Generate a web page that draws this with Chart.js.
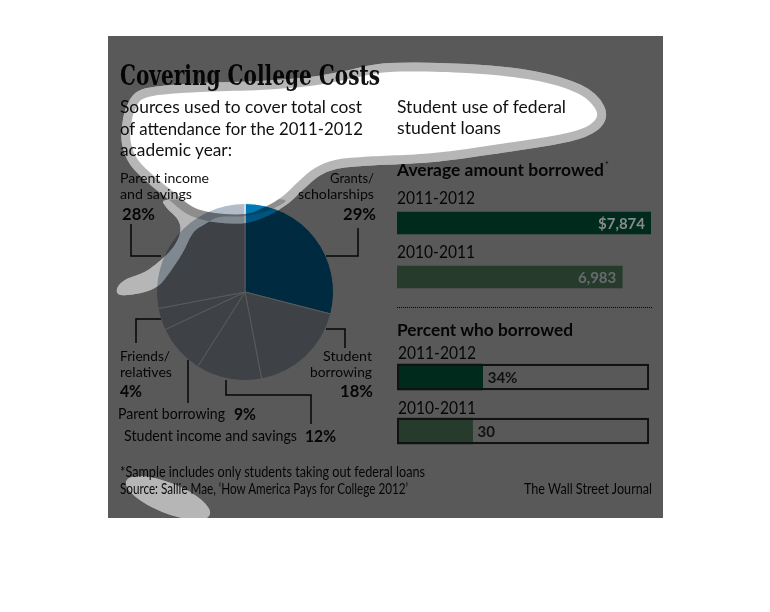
<!DOCTYPE html>
<html><head><meta charset="utf-8">
<script src="https://cdn.jsdelivr.net/npm/chart.js@4"></script>
<style>
body{margin:0;background:#fff;}
#wrap{position:relative;width:770px;height:612px;overflow:hidden;}
.t{position:absolute;white-space:nowrap;color:#111;transform-origin:left center;z-index:2;}
canvas{position:absolute;}
</style></head>
<body><div id="wrap">
<div style="position:absolute;left:108px;top:36px;width:555px;height:482px;background:#fff"></div>
<div style="position:absolute;left:397px;top:307px;width:255px;border-top:1.6px dotted #111;z-index:2"></div>
<canvas id="pie" width="178" height="178" style="left:156px;top:203px;z-index:1"></canvas>
<svg id="lead" width="770" height="612" style="position:absolute;left:0;top:0;z-index:2"></svg>
<svg id="ov" width="770" height="612" style="position:absolute;left:0;top:0;z-index:5"></svg>
<canvas id="avg" width="254" height="108" style="left:397px;top:196px;z-index:10"></canvas>
<canvas id="pct" width="252" height="108" style="left:397px;top:350px;z-index:10"></canvas>
</div>
<script>
// ---------------- data ----------------
const pieLabels = ['Grants/ scholarships','Student borrowing','Student income and savings','Parent borrowing','Friends/ relatives','Parent income and savings'];
const pieValues = [29, 18, 12, 9, 4, 28];
const avgYears = ['2011-2012', '2010-2011'];
const avgValues = [7874, 6983];
const pctYears = ['2011-2012', '2010-2011'];
const pctValues = [34, 30];
const pctScaleMax = 100;

const SANS = 'Lato, "Open Sans", sans-serif';
const wrap = document.getElementById('wrap');
const texts = [];
function T(txt, x, cy, w, size, weight, family, extra){
  const d = document.createElement('div');
  d.className = 't';
  d.textContent = txt;
  d.style.left = x + 'px';
  d.style.top = (cy - 0.53*size) + 'px';
  d.style.fontSize = size + 'px';
  d.style.lineHeight = size + 'px';
  d.style.fontWeight = weight || 400;
  d.style.fontFamily = family || SANS;
  if (extra) Object.assign(d.style, extra);
  wrap.appendChild(d);
  texts.push([d, w]);
  return d;
}
function fit(){
  texts.forEach(([d,w])=>{
    if(!w) return;
    d.style.transform = 'none';
    const r = d.getBoundingClientRect().width;
    if (r>0) d.style.transform = 'scaleX(' + (w/r) + ')';
  });
}
const pct = v => v + '%';

// headings
T('Covering College Costs', 120, 77, 260, 28, 700, '"DejaVu Serif Condensed", "DejaVu Serif", serif');
T('Sources used to cover total cost', 120, 107, 242, 17);
T('of attendance for the 2011-2012', 120, 129, 243, 17);
T('academic year:', 120, 150, 112, 17);
T('Student use of federal', 397, 107, 169, 17);
T('student loans', 397, 128, 104, 17);
T('Average amount borrowed', 397, 170, 207, 17, 700);
T('*', 605, 165, 0, 9, 400);
T(avgYears[0], 397, 198, 78, 17);
T(avgYears[1], 397, 252, 78, 17);
T('Percent who borrowed', 397, 330, 176, 17, 700);
T(pctYears[0], 398, 353, 78, 17);
T(pctYears[1], 398, 408, 78, 17);
// footer
T('*Sample includes only students taking out federal loans', 120, 472, 305, 15);
T('Source: Sallie Mae, \u2018How America Pays for College 2012\u2019', 120, 489, 288, 15);
T('The Wall Street Journal', 524, 489, 128, 15);

// pie labels
T('Parent income', 120, 178, 89, 14);
T('and savings', 120, 194, 72, 14);
T(pct(pieValues[5]), 122, 214, 33, 17, 700);
T('Grants/', 330, 178, 44, 14);
T('scholarships', 298, 194, 76, 14);
T(pct(pieValues[0]), 343, 214, 33, 17, 700);
T('Student', 323, 356, 49, 14);
T('borrowing', 310, 372, 62, 14);
T(pct(pieValues[1]), 340, 391, 33, 17, 700);
T('Friends/', 120, 356, 50, 14);
T('relatives', 120, 372, 52, 14);
T(pct(pieValues[4]), 120, 391, 22, 17, 700);
T('Parent borrowing', 118, 414, 107, 15);
T(pct(pieValues[3]), 234, 414, 22, 17, 700);
T('Student income and savings', 124, 436, 173, 15);
T(pct(pieValues[2]), 305, 436, 31, 17, 700);

fit();
if (document.fonts && document.fonts.ready) document.fonts.ready.then(fit);

// leader lines
const leaders = [
  [[131,224],[131,256],[161,256]],
  [[358,228],[358,256],[326,256]],
  [[326,329],[345,329],[345,348]],
  [[136,343],[136,319],[161,319]],
  [[188,360],[188,403]],
  [[226,380],[226,395],[311,395],[311,424]]
];
document.getElementById('lead').innerHTML = leaders.map(p =>
  `<polyline points="${p.map(q=>q.join(',')).join(' ')}" fill="none" stroke="#111" stroke-width="1.5"/>`).join('');

// highlight overlay
function smooth(pts){
  const n = pts.length; let d = `M${pts[0][0]},${pts[0][1]}`;
  for (let i=0;i<n;i++){
    const p0=pts[(i-1+n)%n], p1=pts[i], p2=pts[(i+1)%n], p3=pts[(i+2)%n];
    const c1=[p1[0]+(p2[0]-p0[0])/6, p1[1]+(p2[1]-p0[1])/6];
    const c2=[p2[0]-(p3[0]-p1[0])/6, p2[1]-(p3[1]-p1[1])/6];
    d += ` C${c1[0].toFixed(1)},${c1[1].toFixed(1)} ${c2[0].toFixed(1)},${c2[1].toFixed(1)} ${p2[0]},${p2[1]}`;
  }
  return d + 'Z';
}
const blob = [[148,97],[200,92],[260,90],[310,86],[350,79],[390,72],[467,73],[533,80],[577,93],[596,110],[592,123],[567,133],[500,144],[433,153],[362,157],[335,160],[315,168],[298,182],[283,196],[265,207],[245,214],[215,213],[193,207],[175,193],[155,177],[138,160],[131,143],[131,127],[135,110]];
const tail = [[166,200],[166,207],[178,220],[180,233],[171,250],[148,270],[125,280],[117,289],[121,295],[141,293],[158,286],[170,272],[183,252],[193,233],[205,224],[220,217],[245,216],[270,210],[285,200],[250,200],[200,200]];
const bd = smooth(blob), td = smooth(tail);
const ell = '<ellipse cx="168" cy="498" rx="45" ry="15" transform="rotate(22 168 498)"/>';
document.getElementById('ov').innerHTML = `
<defs><mask id="m" maskUnits="userSpaceOnUse" x="0" y="0" width="770" height="612">
<rect x="108" y="36" width="555" height="482" fill="#fff"/>
<g fill="#000" stroke="none"><path d="${td}"/>${ell}</g>
<path d="${bd}" fill="#000" stroke="#000" stroke-width="18" stroke-linejoin="round"/>
<g fill="#fff" fill-opacity="0.44"><path d="${td}"/>${ell}</g>
<path d="${bd}" fill="none" stroke="#fff" stroke-opacity="0.44" stroke-width="18" stroke-linejoin="round"/>
<path d="${bd}" fill="#000"/>
</mask></defs>
<rect x="108" y="36" width="555" height="482" fill="#000" fill-opacity="0.652" mask="url(#m)"/>`;

// ---------------- charts ----------------
const base = {responsive:false, animation:false, events:[], layout:{padding:0},
  plugins:{legend:{display:false}, tooltip:{enabled:false}}};

new Chart(document.getElementById('pie'), {
  type:'pie',
  data:{labels:pieLabels, datasets:[{data:pieValues,
    backgroundColor:['#0078b4','#b2bdc9','#b2bdc9','#b2bdc9','#b2bdc9','#b2bdc9'],
    borderColor:'#ffffff', borderWidth:1}]},
  options:Object.assign({}, base)
});

const avgLabelPlugin = {id:'avgLabels', afterDatasetsDraw(chart){
  const ctx = chart.ctx, meta = chart.getDatasetMeta(0);
  ctx.save(); ctx.font = '700 15px ' + SANS; ctx.textAlign='right'; ctx.textBaseline='middle';
  meta.data.forEach((bar,i)=>{
    const v = avgValues[i];
    ctx.fillStyle = i===0 ? '#878b90' : '#676b6e';
    ctx.fillText((i===0?'$':'') + v.toLocaleString('en-US'), bar.x-6, bar.y+1);
  });
  ctx.restore();
}};
new Chart(document.getElementById('avg'), {
  type:'bar',
  data:{labels:avgYears, datasets:[{data:avgValues, backgroundColor:['#002a1c','#273b2d'], barThickness:22, borderWidth:0}]},
  options:Object.assign({}, base, {indexAxis:'y',
    scales:{x:{display:false, min:0, max:Math.max(...avgValues)}, y:{display:false}}}),
  plugins:[avgLabelPlugin]
});

const pctLabelPlugin = {id:'pctLabels', afterDatasetsDraw(chart){
  const ctx = chart.ctx, meta = chart.getDatasetMeta(0);
  ctx.save(); ctx.font = '700 15px ' + SANS; ctx.textAlign='left'; ctx.textBaseline='middle'; ctx.fillStyle='#111';
  meta.data.forEach((bar,i)=>{
    ctx.fillText(pctValues[i] + (i===0?'%':''), bar.x+5, bar.y+1);
  });
  ctx.restore();
}};
new Chart(document.getElementById('pct'), {
  type:'bar',
  data:{labels:pctYears, datasets:[
    {data:pctValues, backgroundColor:['#002a1c','#273b2d'], barThickness:26, borderWidth:0, grouped:false, order:1},
    {data:pctValues.map(()=>pctScaleMax), backgroundColor:'rgba(0,0,0,0)', borderColor:'#111', borderWidth:1.6, borderSkipped:false, barThickness:26, grouped:false, order:0}
  ]},
  options:Object.assign({}, base, {indexAxis:'y',
    scales:{x:{display:false, min:0, max:pctScaleMax}, y:{display:false}}}),
  plugins:[pctLabelPlugin]
});
</script>
</body></html>
